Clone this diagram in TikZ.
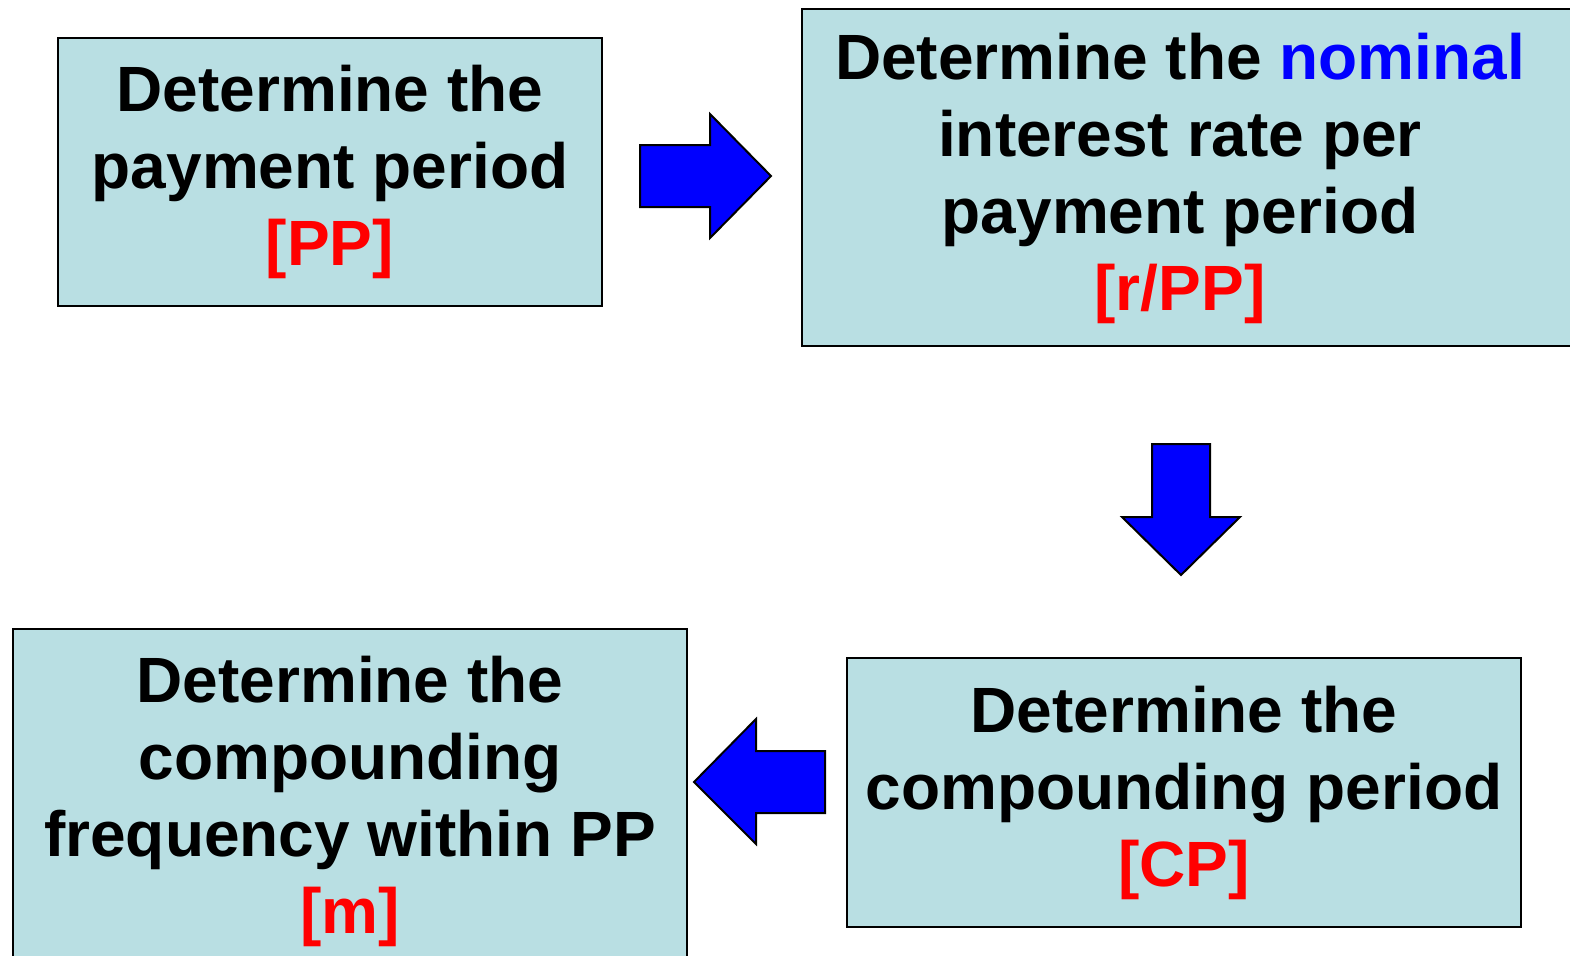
\documentclass[tikz,border=0pt]{standalone}
\usepackage{fontspec}
\setmainfont{Liberation Sans}
\usetikzlibrary{positioning}
\definecolor{boxfill}{HTML}{B9DFE3}
\definecolor{arrblue}{HTML}{0000FF}
\definecolor{keyred}{HTML}{FF0000}
\tikzset{
  steptext/.style={inner sep=0pt, align=center, font=\fontsize{32}{38.5}\selectfont\bfseries},
  stepbox/.style={steptext, draw, line width=1pt, fill=boxfill},
  blk/.style={draw, line width=1pt, fill=arrblue, line join=miter}}

\begin{document}
\begin{tikzpicture}[x=0.5pt, y=-0.5pt]
\useasboundingbox (0,0) rectangle (1570,955);
% top row
\node[stepbox, minimum width=272pt, minimum height=134pt] (pp) at (330,172) {Determine the\\payment period\\\textcolor{keyred}{[PP]}};
\node[stepbox, anchor=north west, minimum width=400pt, minimum height=168.5pt] (rate) at (801,8) {};
\node[steptext] (ratetxt) at (1180,178) {Determine the \textcolor{arrblue}{nominal}\\interest rate per\hspace*{0.28em}\\payment period\\\textcolor{keyred}{[r/PP]}};
% bottom row
\node[stepbox, minimum width=337pt, minimum height=134.5pt] (cp) at (1184,792.5) {Determine the\\compounding period\\\textcolor{keyred}{[CP]}};
\node[stepbox, anchor=north west, minimum width=337pt, minimum height=172pt] (freq) at (12,628) {Determine the\\compounding\\frequency within PP\\\textcolor{keyred}{[m]}};
% block arrows
\draw[blk] (640,145) -- (710,145) -- (710,114) -- (771,176) -- (710,238) -- (710,207) -- (640,207) -- cycle;
\draw[blk] (1152,444) -- (1210,444) -- (1210,517) -- (1240,517) -- (1181,575) -- (1122,517) -- (1152,517) -- cycle;
\draw[blk] (825,751) -- (756,751) -- (756,719) -- (694,782) -- (756,844) -- (756,813) -- (825,813) -- cycle;
\end{tikzpicture}
\end{document}
